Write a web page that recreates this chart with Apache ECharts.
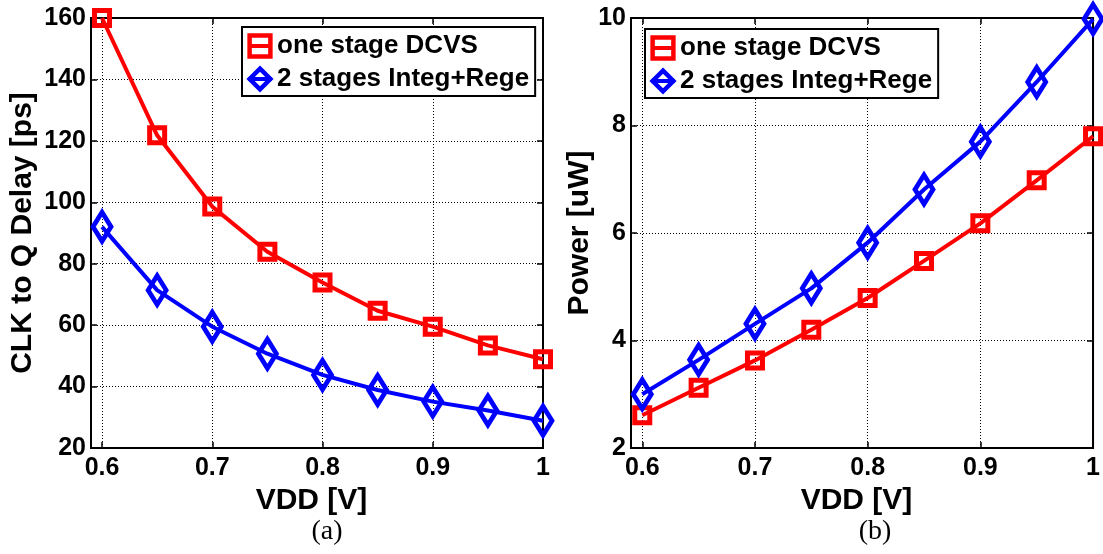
<!DOCTYPE html>
<html>
<head>
<meta charset="utf-8">
<script src="https://cdn.jsdelivr.net/npm/echarts@6/dist/echarts.min.js"></script>
<style>
html,body{margin:0;padding:0;background:#fff;}
#main{width:1103px;height:554px;}
</style>
</head>
<body>
<div id="main"></div>
<script>
var vdd = [0.6, 0.65, 0.7, 0.75, 0.8, 0.85, 0.9, 0.95, 1.0];
var delayDCVS = [160, 121.8, 98.6, 83.9, 73.9, 64.7, 59.5, 53.4, 48.9];
var delayInteg = [92, 71.4, 59.5, 50.7, 43.8, 38.9, 35.1, 32.2, 28.9];
var powerDCVS = [2.61, 3.12, 3.63, 4.20, 4.79, 5.48, 6.18, 6.98, 7.80];
var powerInteg = [3.0, 3.64, 4.31, 4.97, 5.82, 6.81, 7.70, 8.81, 9.98];
var seriesNames = ['one stage DCVS', '2 stages Integ+Rege'];
var panelLabels = ['(a)', '(b)'];
var xName = 'VDD [V]';
var yNames = ['CLK to Q Delay [ps]', 'Power [uW]'];

function pairs(xs, ys) { return xs.map(function (x, i) { return [x, ys[i]]; }); }

var SANS = 'Liberation Sans';
var labelFont = { fontFamily: SANS, fontWeight: 'bold', fontSize: 25, color: '#000' };
var nameFont = { fontFamily: SANS, fontWeight: 'bold', fontSize: 30, color: '#000' };

function xAxes(gi) {
  var fmt = function (v) { if (Math.abs(v - 0.59) < 1e-6) return ''; return String(+v.toFixed(2)); };
  return [{
    type: 'value', gridIndex: gi, min: 0.59, max: 1, splitNumber: 5, position: 'bottom',
    name: xName, nameLocation: 'middle', nameGap: 33,
    nameTextStyle: Object.assign({ padding: [0, 11, 0, 0] }, nameFont),
    axisLine: { show: true, lineStyle: { color: '#000', width: 2 } },
    axisTick: { show: true, inside: true, length: 6, lineStyle: { color: '#000', width: 1.5 } },
    axisLabel: Object.assign({ margin: 8, formatter: fmt }, labelFont),
    splitLine: { show: true, lineStyle: { color: '#000', width: 1, type: [1, 2] } }
  }, {
    type: 'value', gridIndex: gi, min: 0.59, max: 1, splitNumber: 5, position: 'top',
    axisLine: { show: true, lineStyle: { color: '#000', width: 2 } },
    axisTick: { show: true, inside: true, length: 6, lineStyle: { color: '#000', width: 1.5 } },
    axisLabel: { show: false }, splitLine: { show: false }
  }];
}
function yAxes(gi, mn, mx, iv, name, gap) {
  return [{
    type: 'value', gridIndex: gi, min: mn, max: mx, interval: iv, position: 'left',
    name: name, nameLocation: 'middle', nameGap: gap, nameTextStyle: nameFont,
    axisLine: { show: true, lineStyle: { color: '#000', width: 2 } },
    axisTick: { show: true, inside: true, length: 6, lineStyle: { color: '#000', width: 1.5 } },
    axisLabel: Object.assign({ margin: 5 }, labelFont),
    splitLine: { show: true, lineStyle: { color: '#000', width: 1, type: [1, 2] } }
  }, {
    type: 'value', gridIndex: gi, min: mn, max: mx, interval: iv, position: 'right',
    axisLine: { show: true, lineStyle: { color: '#000', width: 2 } },
    axisTick: { show: true, inside: true, length: 6, lineStyle: { color: '#000', width: 1.5 } },
    axisLabel: { show: false }, splitLine: { show: false }
  }];
}

var RED = '#ff0000', BLUE = '#0000ff';
function mkSeries(name, data, gi, color, isDiamond) {
  return {
    name: name, type: 'line', xAxisIndex: gi * 2, yAxisIndex: gi * 2, data: data,
    symbol: isDiamond ? 'diamond' : 'rect',
    symbolSize: isDiamond ? [18, 29] : 15,
    clip: false,
    lineStyle: { color: color, width: 4 },
    itemStyle: { color: 'rgba(255,255,255,0)', borderColor: color, borderWidth: 5 },
    emphasis: { disabled: true },
    z: isDiamond ? 3 : 2
  };
}

function mkLegend(left, top) {
  return {
    orient: 'vertical', left: left, top: top, data: seriesNames,
    padding: [6, 6, 4, 4], itemGap: 7, itemWidth: 24, itemHeight: 26,
    backgroundColor: '#fff', borderColor: '#000', borderWidth: 2, borderRadius: 0,
    itemStyle: { borderWidth: 4.5 },
    lineStyle: { width: 4 },
    textStyle: { fontFamily: SANS, fontWeight: 'bold', fontSize: 26, color: '#000', lineHeight: 26 },
    selectedMode: false
  };
}

var chart = echarts.init(document.getElementById('main'), null, { renderer: 'canvas' });
chart.setOption({
  animation: false,
  backgroundColor: '#fff',
  title: [
    { text: panelLabels[0], left: 322, top: 513, textAlign: 'center', textStyle: { fontFamily: 'Liberation Serif', fontWeight: 'normal', fontSize: 28, color: '#000' } },
    { text: panelLabels[1], left: 870, top: 513, textAlign: 'center', textStyle: { fontFamily: 'Liberation Serif', fontWeight: 'normal', fontSize: 28, color: '#000' } }
  ],
  legend: [mkLegend(242, 27), mkLegend(645, 29)],
  grid: [
    { left: 91, top: 18, width: 452, height: 430, show: true, borderColor: '#000', borderWidth: 2, backgroundColor: 'transparent' },
    { left: 631, top: 18, width: 463, height: 430, show: true, borderColor: '#000', borderWidth: 2, backgroundColor: 'transparent' }
  ],
  xAxis: xAxes(0).concat(xAxes(1)),
  yAxis: yAxes(0, 20, 160, 20, yNames[0], 53).concat(yAxes(1, 2, 10, 2, yNames[1], 36)),
  series: [
    mkSeries(seriesNames[0], pairs(vdd, delayDCVS), 0, RED, false),
    mkSeries(seriesNames[1], pairs(vdd, delayInteg), 0, BLUE, true),
    mkSeries(seriesNames[0], pairs(vdd, powerDCVS), 1, RED, false),
    mkSeries(seriesNames[1], pairs(vdd, powerInteg), 1, BLUE, true)
  ]
});
</script>
</body>
</html>
